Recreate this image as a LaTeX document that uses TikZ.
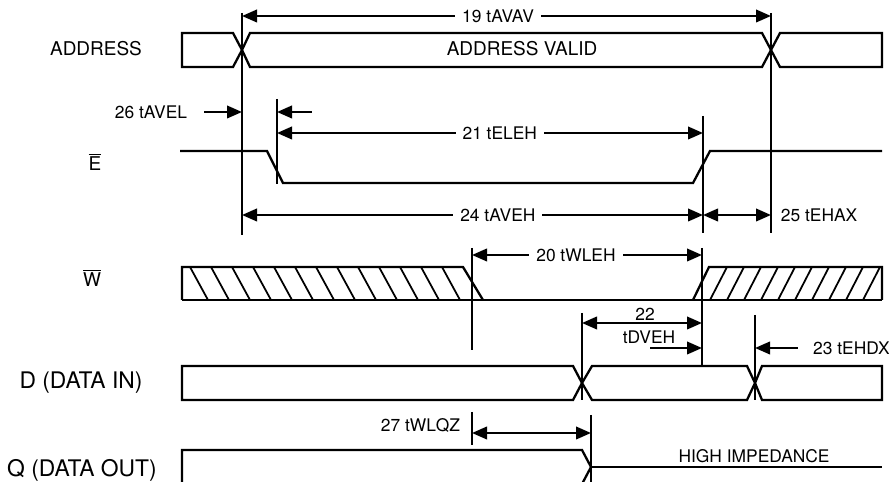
\documentclass[tikz,border=0pt]{standalone}
\usepackage{fontspec}
\setmainfont{TeX Gyre Heros}
\usetikzlibrary{arrows.meta}

\begin{document}
\begin{tikzpicture}[x=0.02cm, y=-0.02cm, line width=1.3pt,
  >={Triangle[length=0.3cm, width=0.25cm]},
  lbl/.style={font=\fontsize{9.9}{11}\selectfont, inner sep=1pt},
  gap/.style={lbl, fill=white, inner sep=4pt},
  sig/.style={font=\fontsize{10.8}{12}\selectfont},
  big/.style={font=\fontsize{13}{15}\selectfont},
  hatch/.style={line width=1pt}]
  \useasboundingbox (0,0) rectangle (889,482);
  % Signal names
  \node[sig] (addr) at (96,49) {ADDRESS};
  \node[sig] (ebar) at (95,162) {$\overline{\mbox{E}}$};
  \node[sig] (wbar) at (92,278) {$\overline{\mbox{W}}$};
  \node[big] (din) at (81,383) {D (DATA IN)};
  \node[big] (dout) at (82,470) {Q (DATA OUT)};
  % ADDRESS
  \draw (182,33) -- (233,33) -- (242,50) -- (233,67) -- (182,67) -- cycle;
  \draw (250,33) -- (762,33) -- (771,50) -- (762,67) -- (250,67) -- (242,50) -- cycle;
  \draw (780,33) -- (882,33) -- (882,67) -- (780,67) -- (771,50) -- cycle;
  \node[sig] (valid) at (522,49) {ADDRESS VALID};
  % E
  \draw (180,151) -- (267,151) -- (283,183) -- (693,183) -- (710,151) -- (882,151);
  % W
  \draw (182,300) -- (882,300);
  \draw (483,300) -- (463,267) -- (182,267) -- (182,300);
  \foreach \x in {190,211,...,442}
    \draw[hatch] (\x,267) -- (\x+18,300);
  \draw (693,300) -- (709,267) -- (882,267) -- (882,300);
  \foreach \x in {710,727,...,863}
    \draw[hatch] (\x,300) -- (\x+17,267);
  % D
  \draw (182,366) -- (573,366) -- (582,383) -- (573,400) -- (182,400) -- cycle;
  \draw (592,366) -- (747,366) -- (755,383) -- (747,400) -- (592,400) -- (582,383) -- cycle;
  \draw (762,366) -- (882,366) -- (882,400) -- (762,400) -- (755,383) -- cycle;
  % Q
  \draw (182,484) -- (182,450) -- (582,450) -- (591,467) -- (582,484);
  \draw (591,467) -- (882,467);
  \node[lbl] (hiz) at (754,456) {HIGH IMPEDANCE};
  % Reference edges
  \draw (242,13) -- (242,235);
  \draw (771,13) -- (771,233);
  \draw (277,99) -- (277,184);
  \draw (703,116) -- (703,233);
  \draw (702,248) -- (702,366);
  \draw (472,248) -- (472,350);
  \draw (582,313) -- (582,400);
  \draw (755,315) -- (755,400);
  \draw (472,412) -- (472,445);
  \draw (591,415) -- (591,482);
  % Timing arrows
  \draw[<->] (242,16) -- (771,16) node[gap, pos=0.484] {19 tAVAV};
  \draw[<-] (242,112) -- ++(-38,0) node[lbl, left=8pt] {26 tAVEL};
  \draw[<-] (277,112) -- ++(35,0);
  \draw[<->] (277,133) -- (703,133) node[gap, pos=0.523] {21 tELEH};
  \draw[<->] (242,215) -- (703,215) node[gap, pos=0.555] {24 tAVEH};
  \draw[<->] (703,215) -- (771,215) node[lbl, right=4pt] {25 tEHAX};
  \draw[<->] (472,255) -- (702,255) node[gap, pos=0.452] {20 tWLEH};
  \draw[<->] (582,323) -- (702,323);
  \node[lbl] (n22) at (645,314) {22};
  \node[lbl] (tdveh) at (649,337) {tDVEH};
  \draw[<-] (702,348) -- ++(-52,0);
  \draw[<-] (755,348) -- ++(43,0) node[lbl, right=7pt] {23 tEHDX};
  \draw[<->] (591,433) -- (472,433);
  \node[lbl, anchor=east] (twlqz) at (463,425) {27 tWLQZ};
\end{tikzpicture}
\end{document}
